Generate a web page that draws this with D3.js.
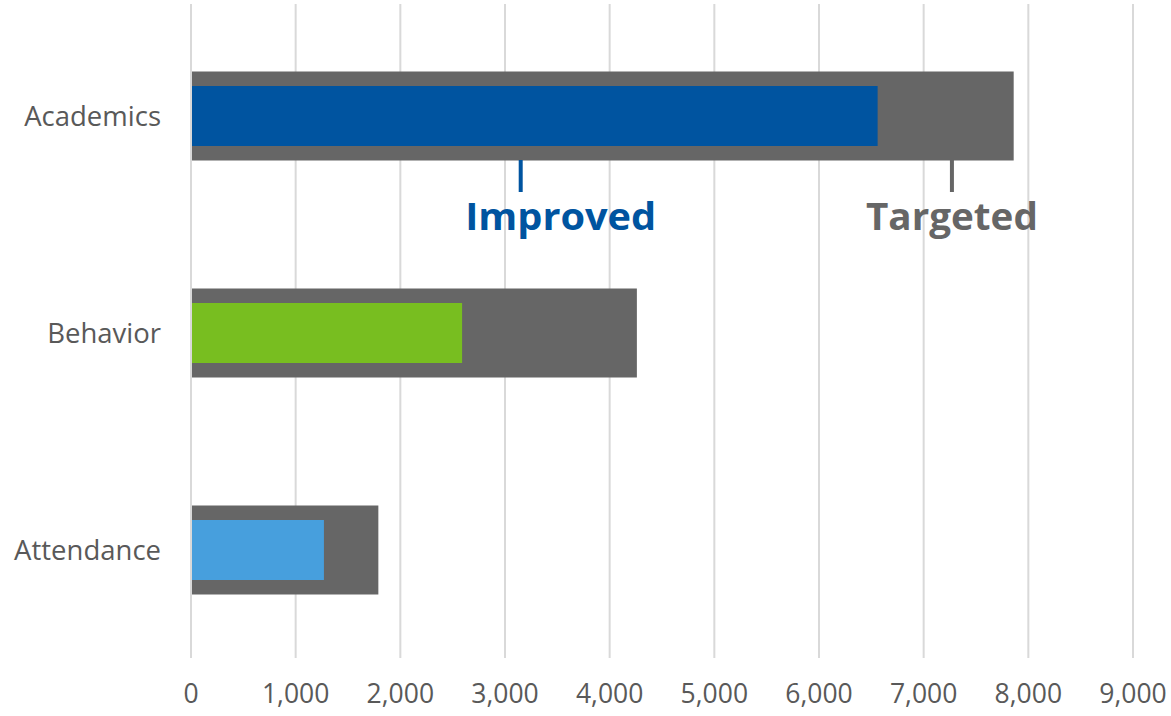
<!DOCTYPE html>
<html><head><meta charset="utf-8">
<script src="https://cdn.jsdelivr.net/npm/d3@7"></script>
<style>body{margin:0;background:#fff}svg{display:block;font-family:"Open Sans",sans-serif}</style>
</head><body><div id="chart"></div>
<script>
const categories = ["Academics", "Behavior", "Attendance"];
const targeted = [7860, 4260, 1790];
const improved = [6560, 2590, 1270];
const improvedColors = ["#0054A0", "#78BE20", "#479FDD"];
const tickValues = [0,1000,2000,3000,4000,5000,6000,7000,8000,9000];
const annotations = [
  {label:"Improved", value:3150, color:"#0054A0", textOffset:40},
  {label:"Targeted", value:7270, color:"#666666", textOffset:0}
];

const W=1171,H=716;
const svg=d3.select("#chart").append("svg").attr("width",W).attr("height",H);
const x=d3.scaleLinear().domain([0,9000]).range([191,1133]);
const y=d3.scaleBand().domain(categories).range([7.5,658.5]);

svg.append("g").selectAll("line").data(tickValues).join("line")
  .attr("x1",d=>x(d)).attr("x2",d=>x(d)).attr("y1",4).attr("y2",658)
  .attr("stroke","#d9d9d9").attr("stroke-width",2);

const bw=y.bandwidth();
svg.append("g").selectAll("rect").data(categories).join("rect")
  .attr("x",x(0)+1).attr("y",d=>y(d)+bw/2-44.5)
  .attr("width",(d,i)=>x(targeted[i])-x(0)-1).attr("height",89)
  .attr("fill","#666666");
svg.append("g").selectAll("rect").data(categories).join("rect")
  .attr("x",x(0)+1).attr("y",d=>y(d)+bw/2-30)
  .attr("width",(d,i)=>x(improved[i])-x(0)-1).attr("height",60)
  .attr("fill",(d,i)=>improvedColors[i]);

svg.append("g").selectAll("text").data(categories).join("text")
  .attr("x",161).attr("y",d=>y(d)+bw/2).attr("dy","0.35em")
  .attr("text-anchor","end").attr("font-size",27.5).attr("fill","#595959").text(d=>d);

svg.append("g").selectAll("text").data(tickValues).join("text")
  .attr("x",d=>x(d)).attr("y",694).attr("dy","0.35em")
  .attr("text-anchor","middle").attr("font-size",26.5).attr("fill","#595959")
  .text(d=>d3.format(",")(d));

const ag=svg.append("g").selectAll("g").data(annotations).join("g");
ag.append("line").attr("x1",d=>x(d.value)).attr("x2",d=>x(d.value))
  .attr("y1",160).attr("y2",192).attr("stroke",d=>d.color).attr("stroke-width",4);
ag.append("text").attr("x",d=>x(d.value)+d.textOffset).attr("y",230)
  .attr("text-anchor","middle").attr("font-size",37).attr("font-weight","bold")
  .attr("fill",d=>d.color).attr("textLength",d=>d.label==="Improved"?191:172)
  .attr("lengthAdjust","spacingAndGlyphs").text(d=>d.label);
</script></body></html>
